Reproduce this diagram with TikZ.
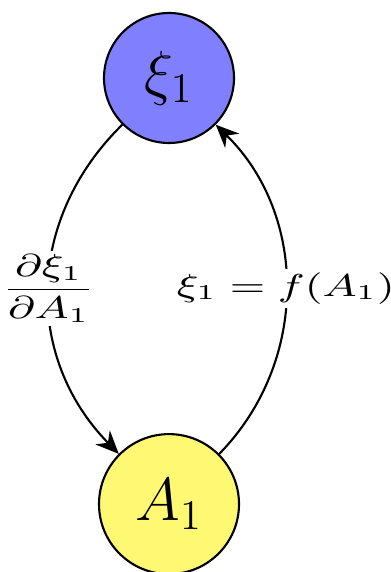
\documentclass[tikz,border=0pt]{standalone}
\usetikzlibrary{arrows.meta, positioning}

\begin{document}
\begin{tikzpicture}[node distance=28.9mm,
     state/.style={circle, draw=black, semithick, inner sep=0pt, font=\fontsize{17}{20}\selectfont},
     lbl/.style={fill=white, inner sep=1pt, xscale=1.4, font=\fontsize{9}{11}\selectfont},
     a/.style={-{Stealth[length=2.3mm, width=2mm]}, semithick}]
    \useasboundingbox (-1.69,-4.94) rectangle (2.21,0.78);
    \node[state, fill=blue!50, minimum size=13mm] (xi) {$\xi_1$};
    \node[state, fill=yellow!55, minimum size=14mm, below=of xi] (a1) {$A_1$};
    \draw[a] (xi) to[bend right=45, looseness=1.05] node[lbl, midway] {$\displaystyle\frac{\partial\xi_1}{\partial A_1}$} (a1);
    \draw[a] (a1) to[bend right=45] node[lbl, midway] {$\xi_1 = f(A_1)$} (xi);
  \end{tikzpicture}
\end{document}
